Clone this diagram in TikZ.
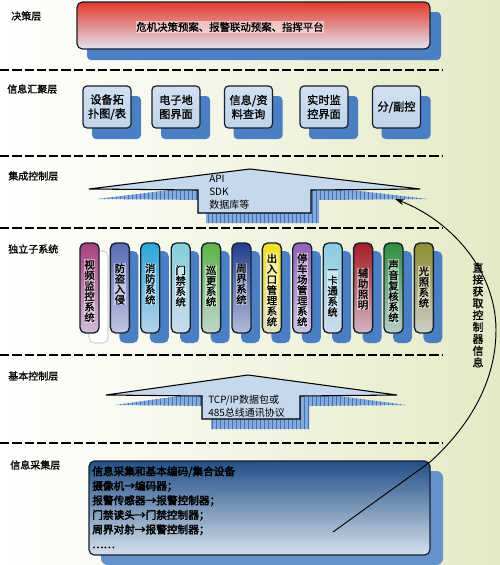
\documentclass[tikz,border=0pt]{standalone}
\usepackage{fontspec}
\setmainfont{Noto Sans CJK SC}
\newfontfamily\cjkbold[FakeBold=1.2]{Noto Sans CJK SC}
\newfontfamily\cjkheavy[FakeBold=3]{Noto Sans CJK SC}
\usetikzlibrary{arrows.meta,patterns}
\definecolor{bgright}{HTML}{E4EAC6}
\definecolor{bgmid}{HTML}{F7F8EE}
\definecolor{shadowblue}{HTML}{4B7FC3}
\definecolor{stripeblue}{HTML}{86AADA}
\definecolor{stripeline}{HTML}{3F72B8}
\definecolor{arrowfill}{HTML}{C6D9EC}
\definecolor{aggtop}{HTML}{D2E1F0}
\definecolor{aggbot}{HTML}{BFD3EA}
\definecolor{navy}{HTML}{15202E}
\definecolor{redtop}{HTML}{E4392B}
\definecolor{redmid}{HTML}{E55A58}
\definecolor{lavbot}{HTML}{E4E3F3}
\definecolor{colltop}{HTML}{214F86}
\definecolor{collbot}{HTML}{D6E0EC}
\definecolor{barbot}{HTML}{DEE0F0}
\definecolor{c1}{HTML}{A8407E}
\definecolor{c2}{HTML}{5B6CB4}
\definecolor{c3}{HTML}{2BA6D9}
\definecolor{c4}{HTML}{84CFDB}
\definecolor{c5}{HTML}{5DB348}
\definecolor{c6}{HTML}{213E8E}
\definecolor{c7}{HTML}{F2E124}
\definecolor{c8}{HTML}{9462B3}
\definecolor{c9}{HTML}{8CCDE3}
\definecolor{c10}{HTML}{A51D25}
\definecolor{c11}{HTML}{2F8E3E}
\definecolor{c12}{HTML}{8E8E33}
\tikzset{
  layerlabel/.style={font=\cjkbold\fontsize{7.5}{9}\selectfont, anchor=west, inner sep=0pt},
  sepline/.style={black, line width=0.8pt, dash pattern=on 7pt off 2.2pt},
  thicksep/.style={black, line width=1.6pt, dash pattern=on 7pt off 2.2pt},
  shadowfill/.style={fill=shadowblue, rounded corners=3pt},
  aggbox/.style={draw=navy, line width=0.9pt, rounded corners=3pt, top color=aggtop, bottom color=aggbot,
    minimum width=36pt, minimum height=31.5pt, align=center, inner sep=0pt,
    font=\cjkbold\fontsize{8.4}{10.5}\selectfont},
  bartext/.style={align=center, inner sep=0.4pt, fill=white, fill opacity=0.45, text opacity=1,
    font=\cjkbold\fontsize{7.8}{7.9}\selectfont},
  flatarrow/.style={fill=arrowfill, draw=black, line width=0.8pt, line join=miter},
  arrowshadow/.style={fill=stripeblue},
  arrowstripes/.style={pattern=vertical lines, pattern color=stripeline},
  arrowtext/.style={anchor=north west, align=left, inner sep=0pt, font=\fontsize{7.5}{9.8}\selectfont},
  curvearrow/.style={black, line width=0.7pt, -{Stealth[length=7pt,width=4.5pt]}},
}
\begin{document}
\begin{tikzpicture}[x=0.75pt,y=-0.75pt]
\useasboundingbox (0,0) rectangle (500,565);
\fill[left color=white, middle color=bgmid, right color=bgright] (0,0) rectangle (500,565);

% separators
\draw[sepline] (0,70) -- (442,70);
\draw[sepline] (0,156) -- (442,156);
\draw[sepline] (0,228) -- (442,228);
\draw[sepline] (0,355) -- (442,355);
\draw[thicksep] (0,443) -- (442,443);

% layer labels
\node[layerlabel] (l1) at (11,16) {决策层};
\node[layerlabel] (l2) at (7,89) {信息汇聚层};
\node[layerlabel] (l3) at (8,176) {集成控制层};
\node[layerlabel] (l4) at (8,249) {独立子系统};
\node[layerlabel] (l5) at (8,376) {基本控制层};
\node[layerlabel] (l6) at (10,465) {信息采集层};

% decision layer
\fill[shadowfill] (87,12) rectangle (441,60);
\node[draw=navy, line width=0.9pt, rounded corners=4pt, top color=redtop, middle color=redmid, bottom color=lavbot,
  minimum width=264.75pt, minimum height=35.25pt, inner sep=0pt] (decision) at (253.5,25.5) {};
\node[inner sep=0.5pt, fill=white, fill opacity=0.5, text opacity=1, font=\cjkbold\fontsize{7.8}{9}\selectfont]
  (decisiontext) at (230,27) {危机决策预案、报警联动预案、指挥平台};

% information aggregation layer
\foreach \cx/\txt/\nm in {107/{设备拓\\扑图/表}/a1, 176/{电子地\\图界面}/a2, 248.5/{信息/资\\料查询}/a3,
  324/{实时监\\控界面}/a4, 396.5/{分/副控}/a5} {
  \fill[shadowfill] (\cx-15,96) rectangle (\cx+34,139);
  \node[aggbox] (\nm) at (\cx,107) {\txt};
}

% integration control arrow
\fill[arrowshadow, shift={(8,10)}] (89,189) -- (250,169) -- (420,189) -- (311,190) -- (311,213) -- (198,213) -- (198,190) -- cycle;
\fill[arrowstripes, shift={(8,10)}] (89,189) -- (250,169) -- (420,189) -- (311,190) -- (311,213) -- (198,213) -- (198,190) -- cycle;
\draw[flatarrow] (89,189) -- (250,169) -- (420,189) -- (311,190) -- (311,213) -- (198,213) -- (198,190) -- cycle;
\coordinate (ctip) at (395,199);
\node[arrowtext] (apitext) at (209,175) {API\\SDK\\数据库等};

% independent subsystems
\foreach \i/\col/\txt/\ty in {
  0/c1/{视\\频\\监\\控\\系\\统}/291,
  1/c2/{防\\盗\\入\\侵}/284,
  2/c3/{消\\防\\系\\统}/284,
  3/c4/{门\\禁\\系\\统}/286,
  4/c5/{巡\\更\\系\\统}/286,
  5/c6/{周\\界\\系\\统}/284,
  6/c7/{出\\入\\口\\管\\理\\系\\统}/290,
  7/c8/{停\\车\\场\\管\\理\\系\\统}/290,
  8/c9/{一\\卡\\通\\系\\统}/293,
  9/c10/{辅\\助\\照\\明}/289,
  10/c11/{声\\音\\复\\核\\系\\统}/291,
  11/c12/{光\\照\\系\\统}/287} {
  \pgfmathsetmacro\L{80+30.4*\i}
  \ifnum\i=0
    \draw[fill=white, draw=gray!60, rounded corners=4pt] (\L+9,251) rectangle (\L+28,343);
  \else
    \fill[shadowfill, rounded corners=4pt] (\L+9,251) rectangle (\L+28,343);
  \fi
  \draw[draw=navy, line width=1pt, rounded corners=4pt, top color=\col, bottom color=\col!22!barbot]
    (\L,243) rectangle (\L+19,333);
  \node[bartext] (s\i) at (\L+9.5,\ty) {\txt};
}

% basic control arrow
\fill[arrowshadow, shift={(9,10)}] (106,395) -- (248,375) -- (397,395) -- (300,396) -- (300,419) -- (202,419) -- (202,396) -- cycle;
\fill[arrowstripes, shift={(9,10)}] (106,395) -- (248,375) -- (397,395) -- (300,396) -- (300,419) -- (202,419) -- (202,396) -- cycle;
\draw[flatarrow] (106,395) -- (248,375) -- (397,395) -- (300,396) -- (300,419) -- (202,419) -- (202,396) -- cycle;
\node[arrowtext] (tcptext) at (208,395) {TCP/IP数据包或\\485总线通讯协议};

% information collection layer
\fill[fill=shadowblue!85, rounded corners=5pt] (101,471) rectangle (443,565);
\node[draw=navy, line width=0.9pt, rounded corners=4pt, top color=colltop, bottom color=collbot,
  minimum width=255.75pt, minimum height=70.5pt, inner sep=0pt] (collect) at (259.5,508) {};
\node[anchor=north west, align=left, inner sep=0pt, font=\cjkheavy\fontsize{8}{10.9}\selectfont]
  (collecttext) at (92,466) {信息采集和基本编码/集合设备\\摄像机→编码器；\\报警传感器→报警控制器；\\门禁读头→门禁控制器；\\周界对射→报警控制器；\\……};

% direct acquisition curve
\coordinate (cstart) at (333,532);
\coordinate (ccorner) at (430,462);
\coordinate (cside) at (496,330);
\draw[curvearrow] (cstart) -- (ccorner) .. controls (460,435) and (496,390) .. (cside)
  .. controls (496,270) and (450,220) .. (ctip);
\node[align=center, inner sep=0pt, font=\cjkbold\fontsize{8.2}{8.9}\selectfont] (direct) at (478,315)
  {直\\接\\获\\取\\控\\制\\器\\信\\息};
\end{tikzpicture}
\end{document}
